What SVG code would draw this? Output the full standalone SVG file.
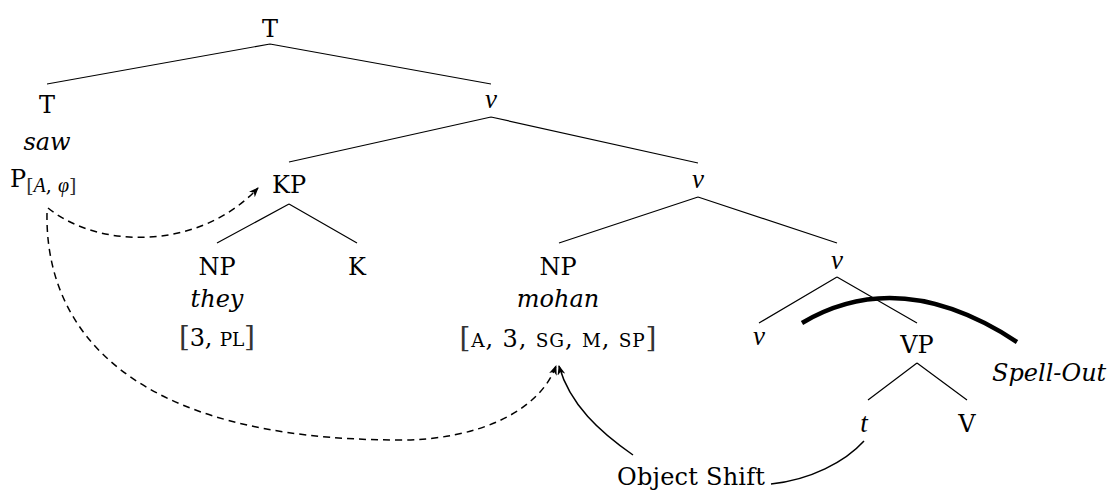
<svg xmlns="http://www.w3.org/2000/svg" width="1107" height="491" viewBox="0 0 1107 491">
<defs>
<style>
.t{font-family:"DejaVu Serif","Liberation Serif",serif;font-size:24px;fill:#000;text-anchor:middle}
.i{font-style:italic}
.m{font-family:"Liberation Serif",serif;font-style:italic;font-size:27px;fill:#000;text-anchor:middle}
.sc{font-size:18.5px}
.br{font-size:28px;fill:#333}
.e{stroke:#000;stroke-width:1.2;fill:none}
.d{stroke:#000;stroke-width:1.5;fill:none;stroke-dasharray:7 5}
.s{stroke:#000;stroke-width:1.5;fill:none}
</style>
<marker id="ah" viewBox="0 0 10 8" refX="9" refY="4" markerWidth="10" markerHeight="8" markerUnits="userSpaceOnUse" orient="auto">
<path d="M0,0 L10,4 L0,8 L3,4 z" fill="#000"/>
</marker>
</defs>
<rect width="1107" height="491" fill="#fff"/>
<g id="connectors">
<path class="e" d="M270,44 L47,84 M270,44 L491,84"/>
<path class="e" d="M491,117 L289,162 M491,117 L698,163"/>
<path class="e" d="M289,204 L217,243 M289,204 L357,243"/>
<path class="e" d="M698,197 L559,243 M698,197 L837,243"/>
<path class="e" d="M837,277 L759,323 M837,277 L917,323"/>
<path class="e" d="M917,363 L868,400 M917,363 L967,400"/>
<path class="d" d="M48,208 C100,250 200,250 258,188" marker-end="url(#ah)"/>
<path class="d" d="M47,213 C45,330 130,440 400,440 C480,440 540,410 556,366" marker-end="url(#ah)"/>
<path class="s" d="M633,455 C600,432 570,405 559,366" marker-end="url(#ah)"/>
<path class="s" d="M771,484 C810,480 845,462 864,441"/>
</g>
<g id="spellout">
<path d="M802,323 Q900,265 1017,342" stroke="#000" stroke-width="4.5" fill="none"/>
<text class="t i" x="992" y="381" style="text-anchor:start">Spell-Out</text>
</g>
<g id="n-T-root"><text class="t" x="270" y="37">T</text></g>
<g id="n-T">
<text class="t" x="47" y="113">T</text>
<text class="t i" x="47" y="150">saw</text>
<text class="t" x="10" y="187" style="text-anchor:start">P<tspan font-size="19" dy="5" fill="#333">[</tspan><tspan font-family="Liberation Serif" font-style="italic" font-size="20">A</tspan><tspan font-size="19">, </tspan><tspan font-family="Liberation Serif" font-style="italic" font-size="20">φ</tspan><tspan font-size="19" fill="#333">]</tspan></text>
</g>
<g id="n-v1"><text class="m" x="491" y="108">v</text></g>
<g id="n-KP"><text class="t" x="289" y="193">KP</text></g>
<g id="n-v2"><text class="m" x="698" y="188">v</text></g>
<g id="n-NP1">
<text class="t" x="217" y="275">NP</text>
<text class="t i" x="217" y="307">they</text>
<text class="t" x="217" y="346" textLength="76" lengthAdjust="spacing"><tspan class="br">[</tspan>3, <tspan class="sc">PL</tspan><tspan class="br">]</tspan></text>
</g>
<g id="n-K"><text class="t" x="357" y="275">K</text></g>
<g id="n-NP2">
<text class="t" x="558" y="275">NP</text>
<text class="t i" x="558" y="307">mohan</text>
<text class="t" x="558" y="347" textLength="197" lengthAdjust="spacing"><tspan class="br">[</tspan><tspan class="sc">A</tspan>, 3, <tspan class="sc">SG</tspan>, <tspan class="sc">M</tspan>, <tspan class="sc">SP</tspan><tspan class="br">]</tspan></text>
</g>
<g id="n-v3"><text class="m" x="837" y="269">v</text></g>
<g id="n-v4"><text class="m" x="759" y="345">v</text></g>
<g id="n-VP"><text class="t" x="917" y="353">VP</text></g>
<g id="n-t"><text class="m" x="864" y="432">t</text></g>
<g id="n-V"><text class="t" x="967" y="432">V</text></g>
<g id="objshift"><text class="t" x="617" y="485" style="text-anchor:start" textLength="148" lengthAdjust="spacing">Object Shift</text></g>
</svg>
